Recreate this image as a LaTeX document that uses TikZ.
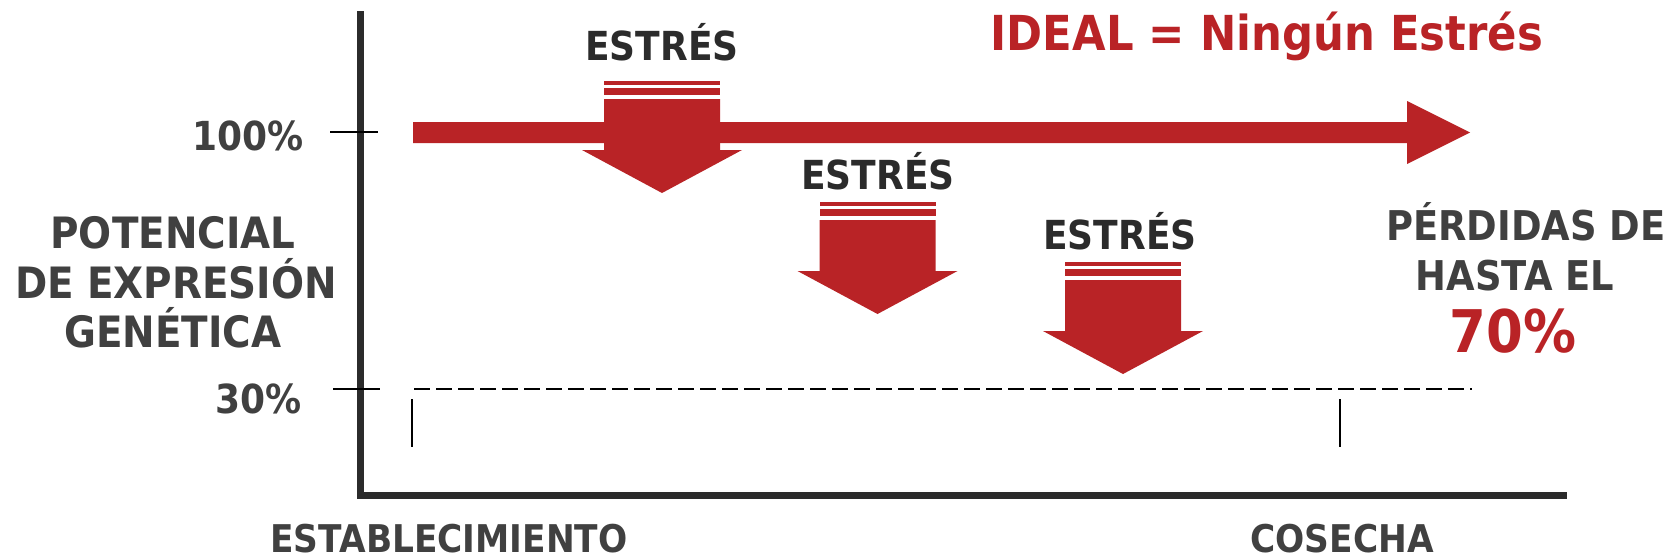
\documentclass[tikz,border=0pt]{standalone}
\usepackage{fontspec}
\setmainfont{DejaVu Sans}[FakeStretch=0.9]
\definecolor{stressred}{RGB}{185,35,38}
\definecolor{labelgray}{RGB}{64,64,64}
\definecolor{darkgray}{RGB}{43,43,43}
\tikzset{
  lbl/.style={inner sep=0pt, outer sep=0pt, anchor=base, text=labelgray,
    text depth=0pt, font={\fontsize{#1}{#1}\selectfont\bfseries}},
  redlbl/.style={lbl=#1, text=stressred},
  stresslbl/.style={lbl=#1, text=darkgray},
  axisline/.style={draw=darkgray, line width=3.5pt},
  tickline/.style={draw=black, line width=0.75pt},
  guideline/.style={draw=black, line width=0.75pt, dash pattern=on 8pt off 3pt},
  stressarrow/.pic={
    \fill[stressred] (-58,0) rectangle (58,4);
    \fill[stressred] (-58,7) rectangle (58,14);
    \fill[stressred] (-58,18) -- (58,18) -- (58,69) -- (80,69) -- (0,112)
      -- (-80,69) -- (-58,69) -- cycle;
  }
}
\begin{document}
\begin{tikzpicture}[x=0.5pt, y=-0.5pt]
\useasboundingbox (0,0) rectangle (1674,559);
% axes
\coordinate (ytop) at (360.5,11);
\coordinate (origin) at (360.5,495.5);
\coordinate (xend) at (1567,495.5);
\draw[axisline] (ytop) -- (origin |- xend) -- (xend);
% ticks
\coordinate (t100a) at (330,132);
\coordinate (t100b) at (378,132);
\coordinate (t30a) at (333,389);
\coordinate (t30b) at (380,389);
\draw[tickline] (t100a) -- (t100b);
\draw[tickline] (t30a) -- (t30b);
\coordinate (g30a) at (414,389);
\coordinate (g30b) at (1472,389);
\draw[guideline] (g30a) -- (g30b);
\coordinate (s1a) at (412,399);
\coordinate (s1b) at (412,447);
\coordinate (s2a) at (1340,399);
\coordinate (s2b) at (1340,447);
\draw[tickline] (s1a) -- (s1b);
\draw[tickline] (s2a) -- (s2b);
% ideal arrow
\fill[stressred] (413,122) -- (1407,122) -- (1407,101) -- (1470,132.5)
  -- (1407,164) -- (1407,143) -- (413,143) -- cycle;
% stress arrows
\pic at (662,81) {stressarrow};
\pic at (877.5,202) {stressarrow};
\pic at (1123,262) {stressarrow};
% labels
\node[stresslbl=20pt] (estres1) at (662,60) {ESTRÉS};
\node[stresslbl=20pt] (estres2) at (878,189) {ESTRÉS};
\node[stresslbl=20pt] (estres3) at (1120,249) {ESTRÉS};
\node[redlbl=24.1pt] (ideal) at (1267,50) {IDEAL = Ningún Estrés};
\node[lbl=20pt, anchor=base east] (p100) at (304,150) {100\%};
\node[lbl=20pt, anchor=base east] (p30) at (302,413) {30\%};
\node[lbl=21.6pt] (pot1) at (173,248) {POTENCIAL};
\node[lbl=21.6pt] (pot2) at (176,298) {DE EXPRESIÓN};
\node[lbl=21.6pt] (pot3) at (173,347) {GENÉTICA};
\node[lbl=20.5pt] (perd1) at (1526,240) {PÉRDIDAS DE};
\node[lbl=20.5pt] (perd2) at (1515,290) {HASTA EL};
\node[redlbl=29.4pt] (perd3) at (1513,352) {70\%};
\node[lbl=19.1pt] (setup) at (449,552) {ESTABLECIMIENTO};
\node[lbl=19.1pt] (harvest) at (1342,552) {COSECHA};
\end{tikzpicture}
\end{document}
